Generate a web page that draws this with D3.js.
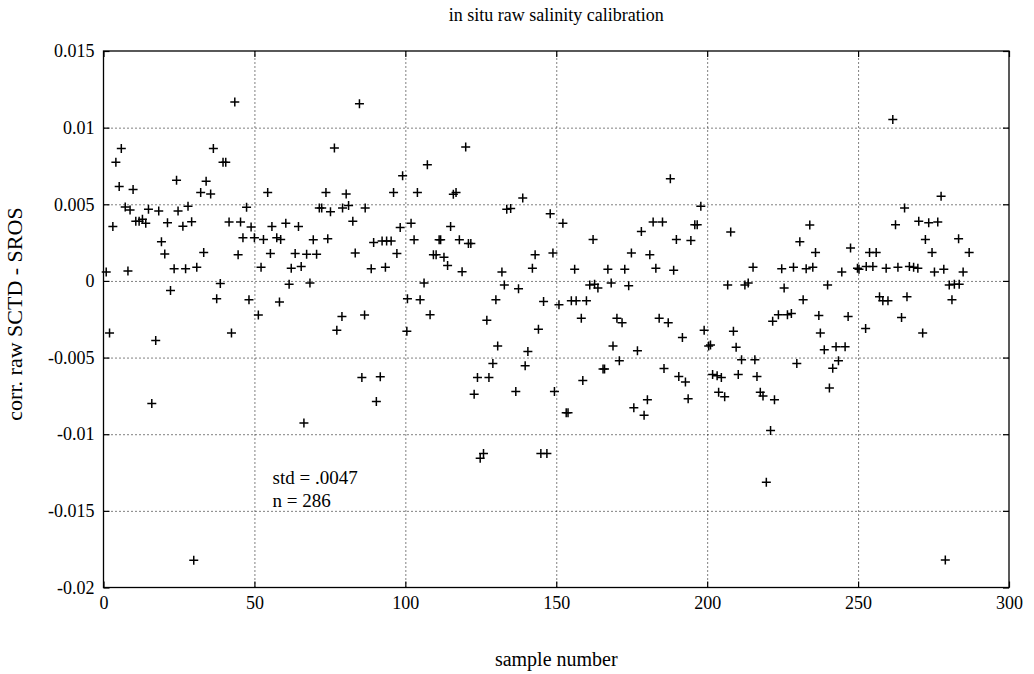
<!DOCTYPE html>
<html>
<head>
<meta charset="utf-8">
<script src="https://cdn.jsdelivr.net/npm/d3@7"></script>
<style>
  body { margin: 0; background: #fff; }
  svg { display: block; }
  text { font-family: "Liberation Serif", "Times New Roman", serif; fill: #000; }
</style>
</head>
<body>
<div id="chart"></div>
<script>
// sample numbers and corrected raw salinity differences
var sampleNumber = [
  0.9, 2.0, 3.1, 4.1, 5.2, 5.9, 7.2, 8.1, 8.8, 9.8, 10.7, 11.8, 12.9, 14.0, 14.9, 16.0, 17.3, 18.3, 19.2, 20.3,
  21.2, 22.2, 23.4, 24.2, 24.7, 26.3, 27.2, 28.0, 29.2, 29.9, 30.9, 32.2, 33.2, 34.0, 35.5, 36.4, 37.5, 38.7, 39.6, 40.5,
  41.6, 42.4, 43.5, 44.6, 45.4, 46.2, 47.4, 48.2, 48.9, 50.0,
  51.3, 52.2, 53.0, 54.4, 55.3, 55.8, 57.4, 58.3, 58.7, 60.4, 61.5, 62.2, 63.5, 64.6, 65.5, 66.4, 67.3, 68.4, 69.5, 70.6,
  71.5, 72.3, 73.7, 74.3, 75.2, 76.5, 77.3, 79.0, 79.2, 80.4, 81.2, 82.6, 83.4, 84.8, 85.6, 86.5, 86.7, 88.7, 89.5, 90.4,
  91.7, 92.3, 93.4, 93.8, 95.3, 96.1, 97.2, 98.3, 99.1, 100.5,
  100.7, 101.9, 102.9, 104.0, 104.9, 106.2, 107.3, 108.2, 109.3, 110.2, 111.2, 111.7, 112.8, 114.0, 115.0, 115.9, 116.8, 117.9, 118.8, 120.0,
  120.9, 121.7, 122.8, 123.9, 124.8, 125.9, 127.0, 127.7, 129.0, 130.0, 130.6, 132.0, 132.8, 133.6, 134.9, 136.6, 137.5, 138.9, 139.7, 140.6,
  142.1, 143.0, 144.1, 144.9, 145.8, 146.9, 148.0, 148.9, 149.4,
  150.9, 152.2, 153.3, 153.9, 155.0, 156.1, 156.6, 158.3, 158.8, 160.0, 161.1, 162.2, 162.7, 163.8, 165.5, 166.0, 167.1, 168.2, 168.8, 170.1,
  170.9, 171.8, 172.7, 174.0, 174.9, 175.7, 176.9, 178.2, 179.1, 180.2, 181.0, 182.1, 183.0, 184.1, 185.2, 185.7, 187.1, 187.8, 188.9, 189.8,
  190.6, 191.8, 192.8, 193.7, 194.6, 195.9, 196.7, 197.9, 199.0,
  200.5, 201.1, 201.8, 203.3, 203.8, 204.7, 205.8, 206.8, 207.8, 208.7, 209.6, 210.3, 211.4, 212.5, 213.6, 215.2, 215.8, 216.5, 217.6, 218.5,
  219.6, 221.0, 221.7, 222.3, 223.6, 224.7, 225.5, 226.6, 227.9, 228.6, 229.7, 230.7, 231.8, 232.8, 234.0, 235.0, 235.9, 237.0, 237.5, 238.8,
  239.9, 240.5, 241.6, 242.7, 243.5, 244.6, 245.7, 246.7, 247.5, 249.8,
  250.3, 252.5, 252.7, 253.8, 254.9, 256.0, 257.1, 258.2, 259.3, 259.9, 261.5, 262.4, 263.2, 264.4, 265.4, 266.2, 267.0, 268.4, 269.8, 270.1,
  271.4, 272.3, 273.4, 274.5, 275.3, 276.4, 277.5, 278.4, 278.9, 280.2, 281.1, 281.9, 283.3, 283.5, 284.8, 286.8
];
var rawDiff = [
  0.00058, -0.0034, 0.00355, 0.00775, 0.00616, 0.00864, 0.00483, 0.00065, 0.00463, 0.00596, 0.00389, 0.00389, 0.00403, 0.00377, 0.00468, -0.00799, -0.00389, 0.00456, 0.00256, 0.00176,
  0.00379, -0.00063, 0.0008, 0.00657, 0.00456, 0.00357, 0.0008, 0.00488, 0.00386, -0.01823, 0.00089, 0.00577, 0.00186, 0.0065, 0.00567, 0.00864, -0.00116, -0.00017, 0.00775, 0.00775,
  0.00384, -0.0034, 0.01168, 0.00171, 0.00384, 0.00282, 0.0048, -0.00123, 0.00352, 0.00282,
  -0.00222, 0.00089, 0.0027, 0.00577, 0.00179, 0.00355, 0.00282, -0.00138, 0.0027, 0.00377, -0.00022, 0.00082, 0.00179, 0.00355, 0.00094, -0.00927, 0.00174, -0.00014, 0.00268, 0.00174,
  0.00476, 0.00476, 0.00577, 0.00275, 0.00451, 0.00867, -0.00321, -0.00232, 0.00476, 0.00567, 0.00492, 0.00389, 0.00183, 0.01156, -0.0063, -0.00222, 0.00476, 0.0008, 0.00251, -0.00787,
  -0.00625, 0.0026, 0.00089, 0.0026, 0.0026, 0.00577, 0.00179, 0.00348, 0.00686, -0.00328,
  -0.00116, 0.00377, 0.00268, 0.00577, -0.00123, -0.00014, 0.00758, -0.0022, 0.00171, 0.00171, 0.00268, 0.00268, 0.00155, 0.00101, 0.00355, 0.00565, 0.00577, 0.00268, 0.0006, 0.00874,
  0.00244, 0.00244, -0.00739, -0.0063, -0.01157, -0.01125, -0.00256, -0.0063, -0.00538, -0.00123, -0.00425, 0.00058, -0.00027, 0.00468, 0.00473, -0.00722, -0.00051, 0.00541, -0.00553, -0.00461,
  0.00082, 0.00171, -0.00316, -0.01125, -0.00135, -0.01125, 0.00439, 0.00183, -0.00722,
  -0.00155, 0.00377, -0.0086, -0.0086, -0.0013, 0.00077, -0.0013, -0.00244, -0.00649, -0.0013, -0.00027, 0.0027, -0.00022, -0.00046, -0.00575, -0.00575, 0.00077, -0.00014, -0.00425, -0.00244,
  -0.00521, -0.00273, 0.00077, -0.00031, 0.00183, -0.00828, -0.00456, 0.00323, -0.00876, -0.00775, 0.00171, 0.00384, 0.00082, -0.00244, 0.00384, -0.00572, -0.00273, 0.00666, 0.0007, 0.0027,
  -0.00623, -0.00369, -0.00659, -0.00768, 0.00263, 0.00367, 0.00367, 0.00488, -0.00321,
  -0.00425, -0.00418, -0.00611, -0.00618, -0.00727, -0.0063, -0.00756, -0.00027, 0.00319, -0.00328, -0.00432, -0.00611, -0.00514, -0.00027, -0.00014, 0.00089, -0.00514, -0.00623, -0.00727, -0.00751,
  -0.01313, -0.00975, -0.00263, -0.00775, -0.0022, 0.0008, -0.00046, -0.0022, -0.00212, 0.00089, -0.00538, 0.00256, -0.00123, 0.0008, 0.00365, 0.00089, 0.00186, -0.00225, -0.0034, -0.00449,
  -0.00027, -0.00698, -0.0057, -0.0043, -0.00521, 0.00058, -0.0043, -0.00232, 0.00215, 0.00082,
  0.00077, -0.00311, 0.00094, 0.00186, 0.00094, 0.00186, -0.00104, -0.0013, 0.00082, -0.0013, 0.01053, 0.00367, 0.00089, -0.00239, 0.00476, -0.00104, 0.00094, 0.00089, 0.00082, 0.00389,
  -0.0034, 0.0027, 0.00379, 0.00186, 0.00058, 0.00384, 0.00553, 0.00077, -0.0182, -0.00027, -0.00123, -0.00022, 0.00275, -0.00022, 0.00058, 0.00186
];

var xTicks = [0, 50, 100, 150, 200, 250, 300];
var yTicks = [0.015, 0.01, 0.005, 0, -0.005, -0.01, -0.015, -0.02];
var yTickLabels = ['0.015', '0.01', '0.005', '0', '-0.005', '-0.01', '-0.015', '-0.02'];
var statLines = ['std = .0047', 'n = 286'];
var statPos = [[56, -0.0128], [56, -0.0143]];

var svgW = 1034, svgH = 674,
    margin = {top: 51, right: 25, bottom: 86.5, left: 103.5},
    w = svgW - margin.left - margin.right,
    h = svgH - margin.top - margin.bottom;

var svg = d3.select('#chart')
    .append('svg')
    .attr('width', svgW)
    .attr('height', svgH);

var g = svg.append('g')
    .attr('transform', 'translate(' + margin.left + ',' + margin.top + ')');

var x = d3.scaleLinear().domain([0, 300]).range([0, w]);
var y = d3.scaleLinear().domain([-0.02, 0.015]).range([h, 0]);

// dotted grid
g.append('g')
    .attr('class', 'grid')
    .call(d3.axisLeft(y).tickValues(yTicks.slice(1, -1)).tickSize(-w).tickFormat(''))
    .call(function (s) { s.select('.domain').remove(); });
g.append('g')
    .attr('class', 'grid')
    .attr('transform', 'translate(0,' + h + ')')
    .call(d3.axisBottom(x).tickValues(xTicks.slice(1, -1)).tickSize(-h).tickFormat(''))
    .call(function (s) { s.select('.domain').remove(); });
g.selectAll('.grid line')
    .attr('stroke', '#000')
    .attr('stroke-width', 1)
    .attr('stroke-dasharray', '1,3');

// axes, ticks pointing inwards on all four sides
var tickLen = 6;
g.append('g')
    .call(d3.axisLeft(y).tickValues(yTicks).tickFormat(function (d, i) { return yTickLabels[i]; })
      .tickSizeInner(-tickLen).tickSizeOuter(0).tickPadding(9));
g.append('g')
    .attr('transform', 'translate(0,' + h + ')')
    .call(d3.axisBottom(x).tickValues(xTicks).tickFormat(d3.format('d'))
      .tickSizeInner(-tickLen).tickSizeOuter(0).tickPadding(9));
g.append('g')
    .attr('transform', 'translate(' + w + ',0)')
    .call(d3.axisRight(y).tickValues(yTicks).tickFormat('').tickSizeInner(-tickLen).tickSizeOuter(0));
g.append('g')
    .call(d3.axisTop(x).tickValues(xTicks).tickFormat('').tickSizeInner(-tickLen).tickSizeOuter(0));

g.selectAll('.domain').remove();
g.selectAll('.tick line').filter(function () { return !this.parentNode.parentNode.classList.contains('grid'); })
    .attr('stroke', '#000').attr('stroke-width', 1.2);
g.selectAll('.tick text')
    .style('font-family', '"Liberation Serif", serif')
    .style('font-size', '18px')
    .attr('fill', '#000');

// frame
g.append('rect')
    .attr('width', w)
    .attr('height', h)
    .attr('fill', 'none')
    .attr('stroke', '#000')
    .attr('stroke-width', 1.3);

// plus markers
var cross = 'M-4.5,0H4.5M0,-4.5V4.5';
g.selectAll('path.pt')
    .data(sampleNumber)
    .enter()
    .append('path')
    .attr('class', 'pt')
    .attr('d', cross)
    .attr('transform', function (d, i) { return 'translate(' + x(d) + ',' + y(rawDiff[i]) + ')'; })
    .attr('stroke', '#000')
    .attr('stroke-width', 1.5)
    .attr('fill', 'none');

// std / n annotation
g.selectAll('text.stat')
    .data(statLines)
    .enter()
    .append('text')
    .attr('class', 'stat')
    .attr('x', function (d, i) { return x(statPos[i][0]); })
    .attr('y', function (d, i) { return y(statPos[i][1]); })
    .attr('dy', '0.35em')
    .style('font-size', '19px')
    .text(function (d) { return d; });

// title and labels
svg.append('text')
    .attr('x', margin.left + w / 2)
    .attr('y', 21)
    .attr('text-anchor', 'middle')
    .style('font-size', '18px')
    .text('in situ raw salinity calibration');

svg.append('text')
    .attr('x', margin.left + w / 2)
    .attr('y', 666)
    .attr('text-anchor', 'middle')
    .style('font-size', '20px')
    .text('sample number');

svg.append('text')
    .attr('transform', 'translate(22,314) rotate(-90)')
    .attr('text-anchor', 'middle')
    .style('font-size', '22px')
    .text('corr. raw SCTD - SROS');
</script>
</body>
</html>
